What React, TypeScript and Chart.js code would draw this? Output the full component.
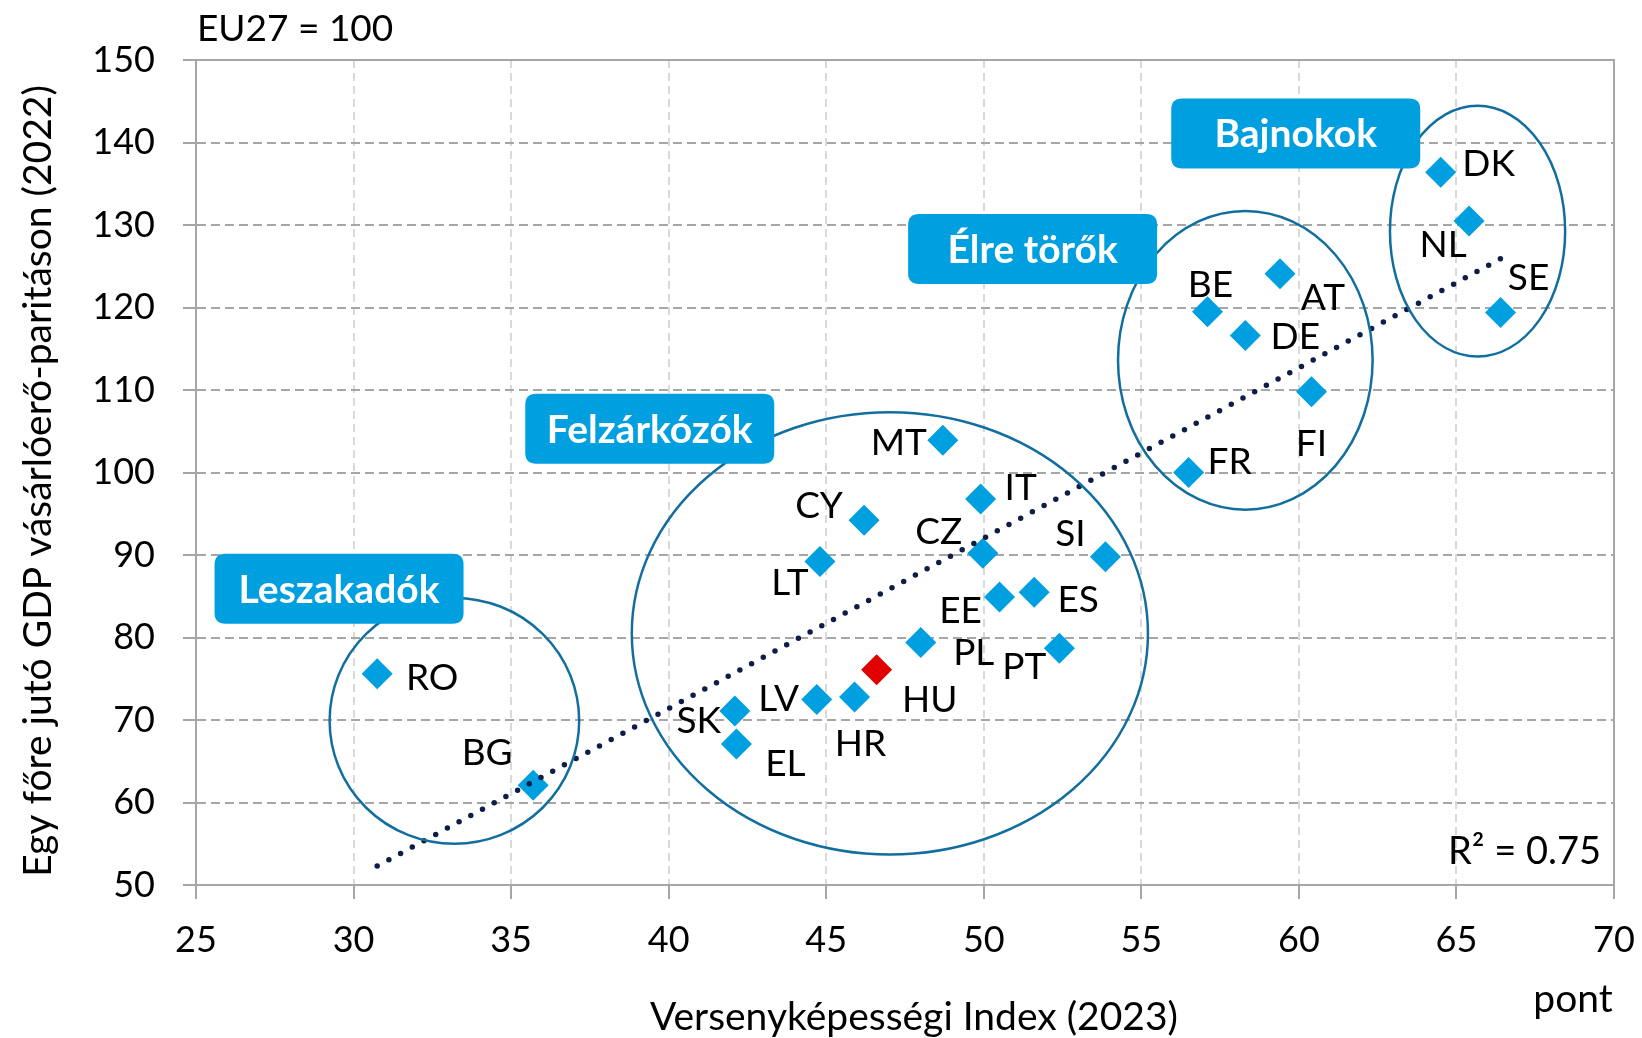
import React, { useEffect, useRef } from "react";
import { Chart, registerables } from "chart.js";

Chart.register(...registerables);

// ---- data ----
const countries = ["RO","BG","SK","EL","LV","HR","HU","PL","LT","CY","MT","IT","CZ","EE","ES","PT","SI","FR","BE","DE","AT","FI","DK","NL","SE"];
const competitiveness = [30.75,35.7,42.1,42.15,44.7,45.9,46.6,48.0,44.8,46.2,48.7,49.9,49.97,50.5,51.6,52.4,53.86,56.5,57.1,58.3,59.4,60.4,64.5,65.4,66.4];
const gdpPps = [75.6,62.1,71.1,67.1,72.5,72.8,76.1,79.4,89.2,94.2,103.9,96.8,90.2,84.9,85.5,78.7,89.8,100,119.5,116.6,124.1,109.8,136.4,130.5,119.4];
const highlighted = ["HU"];
const xTicks = [25,30,35,40,45,50,55,60,65,70];
const yTicks = [50,60,70,80,90,100,110,120,130,140,150];
const groupNames = ["Leszakadók","Felzárkózók","Élre törők","Bajnokok"];
const r2Text = "R² = 0.75";

// ---- layout / annotation config ----
const labelOffsets: Record<string, [number, number]> = {
  DK: [48, -9], NL: [-26, 23], SE: [28, -35], BE: [3, -28], AT: [43, 23], DE: [50, 0],
  FI: [0, 51], FR: [41, -12], MT: [-44, 2], IT: [40, -12], CY: [-45, -15], CZ: [-44, -22],
  SI: [-35, -24], LT: [-30, 20], EE: [-39, 13], ES: [44, 7], PL: [53, 10], PT: [-35, 18],
  HU: [53, 29], LV: [-38, -1], HR: [6, 46], SK: [-36, 9], EL: [49, 19], RO: [55, 3], BG: [-46, -33],
};
const ellipses = [
  { cx: 33.2, cy: 69.9, rx: 3.96, ry: 14.9 },
  { cx: 47.02, cy: 80.5, rx: 8.19, ry: 26.8 },
  { cx: 58.3, cy: 113.6, rx: 4.04, ry: 18.1 },
  { cx: 65.67, cy: 129.25, rx: 2.78, ry: 15.2 },
];
const boxes = [
  { cx: 29.54, cy: 85.9 },
  { cx: 39.4, cy: 105.3 },
  { cx: 51.55, cy: 127.1 },
  { cx: 59.9, cy: 141.1 },
];

const FONT = "Lato, 'Noto Sans', sans-serif";
const BLUE = "#009FDF";
const RED = "#E00000";

function regression(xs: number[], ys: number[]) {
  const n = xs.length;
  const mx = xs.reduce((a, b) => a + b, 0) / n;
  const my = ys.reduce((a, b) => a + b, 0) / n;
  let sxy = 0, sxx = 0;
  for (let i = 0; i < n; i++) { sxy += (xs[i] - mx) * (ys[i] - my); sxx += (xs[i] - mx) ** 2; }
  const b = sxy / sxx;
  return { a: my - b * mx, b };
}

function roundRect(ctx: CanvasRenderingContext2D, x: number, y: number, w: number, h: number, r: number) {
  ctx.beginPath();
  ctx.moveTo(x + r, y);
  ctx.lineTo(x + w - r, y);
  ctx.quadraticCurveTo(x + w, y, x + w, y + r);
  ctx.lineTo(x + w, y + h - r);
  ctx.quadraticCurveTo(x + w, y + h, x + w - r, y + h);
  ctx.lineTo(x + r, y + h);
  ctx.quadraticCurveTo(x, y + h, x, y + h - r);
  ctx.lineTo(x, y + r);
  ctx.quadraticCurveTo(x, y, x + r, y);
  ctx.closePath();
}

export default function App() {
  const ref = useRef<HTMLCanvasElement>(null);
  useEffect(() => {
    document.body.style.margin = "0";
    const { a, b } = regression(competitiveness, gdpPps);
    const xmin = Math.min(...competitiveness);
    const xmax = Math.max(...competitiveness);
    const trend = [{ x: xmin, y: a + b * xmin }, { x: xmax, y: a + b * xmax }];

    const overlay = {
      id: "overlay",
      beforeDatasetsDraw(chart: any) {
        const { ctx, chartArea: ca } = chart;
        ctx.save();
        ctx.strokeStyle = "#A6A6A6";
        ctx.lineWidth = 2;
        ctx.beginPath();
        ctx.moveTo(ca.left, ca.top);
        ctx.lineTo(ca.right, ca.top);
        ctx.lineTo(ca.right, ca.bottom);
        ctx.stroke();
        ctx.restore();
      },
      afterDatasetsDraw(chart: any) {
        const { ctx, scales, chartArea: ca } = chart;
        const xs = scales.x, ys = scales.y;
        ctx.save();
        // country labels
        ctx.fillStyle = "#000";
        ctx.font = `37px ${FONT}`;
        ctx.textAlign = "center";
        ctx.textBaseline = "alphabetic";
        countries.forEach((c, i) => {
          const px = xs.getPixelForValue(competitiveness[i]);
          const py = ys.getPixelForValue(gdpPps[i]);
          const [dx, dy] = labelOffsets[c] || [0, 0];
          ctx.fillText(c, px + dx, py + dy + 13);
        });
        // ellipses
        ctx.strokeStyle = "#136EA0";
        ctx.lineWidth = 2.5;
        ellipses.forEach((e) => {
          const cx = xs.getPixelForValue(e.cx);
          const cy = ys.getPixelForValue(e.cy);
          const rx = Math.abs(xs.getPixelForValue(e.cx + e.rx) - cx);
          const ry = Math.abs(ys.getPixelForValue(e.cy + e.ry) - cy);
          ctx.beginPath();
          ctx.ellipse(cx, cy, rx, ry, 0, 0, Math.PI * 2);
          ctx.stroke();
        });
        // group boxes
        boxes.forEach((bx, i) => {
          const cx = xs.getPixelForValue(bx.cx);
          const cy = ys.getPixelForValue(bx.cy);
          const w = 249, h = 70;
          ctx.fillStyle = BLUE;
          roundRect(ctx, cx - w / 2, cy - h / 2, w, h, 11);
          ctx.fill();
          ctx.fillStyle = "#fff";
          ctx.font = `bold 39px ${FONT}`;
          ctx.textAlign = "center";
          ctx.fillText(groupNames[i], cx, cy + 14);
        });
        // R2
        ctx.fillStyle = "#000";
        ctx.font = `38px ${FONT}`;
        ctx.textAlign = "right";
        ctx.fillText(r2Text, ca.right - 13, ca.bottom - 21);
        // axis titles and notes
        ctx.font = `37px ${FONT}`;
        ctx.textAlign = "left";
        ctx.fillText("EU27 = 100", 197, 41);
        ctx.font = `39px ${FONT}`;
        ctx.textAlign = "center";
        ctx.fillText("Versenyképességi Index (2023)", 914, 1030);
        ctx.fillText("pont", 1573, 1012);
        ctx.save();
        ctx.translate(51, 481);
        ctx.rotate(-Math.PI / 2);
        ctx.fillText("Egy főre jutó GDP vásárlóerő-paritáson (2022)", 0, 0);
        ctx.restore();
        ctx.restore();
      },
    };

    const chart = new Chart(ref.current!, {
      type: "scatter",
      data: {
        datasets: [
          {
            type: "line",
            data: trend,
            borderColor: "#0D1D45",
            borderWidth: 5.5,
            borderDash: [0, 13.3],
            borderCapStyle: "round",
            pointRadius: 0,
            fill: false,
            order: 0,
          } as any,
          {
            data: competitiveness.map((x, i) => ({ x, y: gdpPps[i] })),
            pointStyle: "rectRot",
            pointRadius: 15.5,
            pointBorderWidth: 0,
            pointBackgroundColor: countries.map((c) => (highlighted.includes(c) ? RED : BLUE)),
            pointBorderColor: countries.map((c) => (highlighted.includes(c) ? RED : BLUE)),
            order: 1,
          },
        ],
      },
      options: {
        animation: false,
        responsive: true,
        maintainAspectRatio: false,
        layout: { padding: { left: 0, top: 60, right: 28, bottom: 0 } },
        plugins: { legend: { display: false }, tooltip: { enabled: false } },
        scales: {
          x: {
            type: "linear",
            min: xTicks[0],
            max: xTicks[xTicks.length - 1],
            afterBuildTicks: (s: any) => { s.ticks = xTicks.map((v) => ({ value: v })); },
            afterFit: (s: any) => { s.height = 153; s.paddingLeft = 0; s.paddingRight = 0; },
            ticks: { color: "#000", font: { family: FONT, size: 36 }, padding: 20, maxRotation: 0 },
            grid: { color: "#D9D9D9", lineWidth: 2, tickLength: 14, tickColor: "#A6A6A6" },
            border: { color: "#A6A6A6", width: 2, dash: [8, 5] },
          },
          y: {
            type: "linear",
            min: yTicks[0],
            max: yTicks[yTicks.length - 1],
            afterBuildTicks: (s: any) => { s.ticks = yTicks.map((v) => ({ value: v })); },
            afterFit: (s: any) => { s.width = 196; s.paddingTop = 0; s.paddingBottom = 0; },
            ticks: { color: "#000", font: { family: FONT, size: 36 }, padding: 28 },
            grid: { color: "#A6A6A6", lineWidth: 2, tickLength: 13, tickColor: "#A6A6A6" },
            border: { color: "#A6A6A6", width: 2, dash: [9, 5] },
          },
        },
      },
      plugins: [overlay],
    });
    return () => chart.destroy();
  }, []);
  return (
    <div style={{ width: 1642, height: 1038, position: "relative", background: "#fff" }}>
      <canvas ref={ref} />
    </div>
  );
}
